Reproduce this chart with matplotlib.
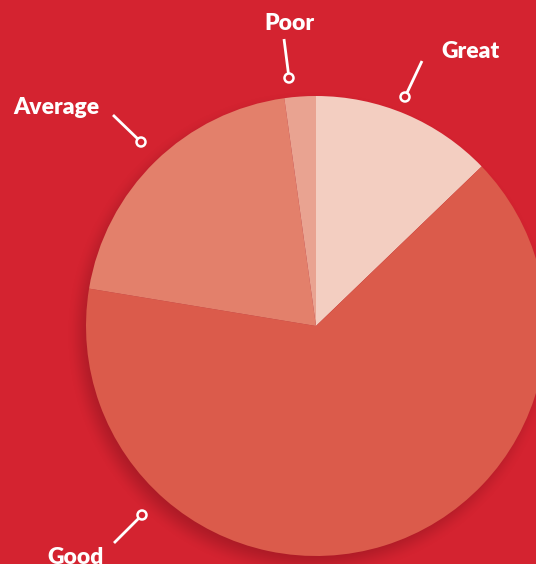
import numpy as np
import matplotlib
matplotlib.use("Agg")
from matplotlib import pyplot as plt
from matplotlib.patches import Circle

# rating shares (percent), clockwise from 12 o'clock
labels = ["Great", "Good", "Average", "Poor"]
shares = [12.8, 64.8, 20.2, 2.2]
colors = ["#F3CEC1", "#DB5B4B", "#E3806B", "#E9A391"]

BG = "#D42330"
W, H = 536, 564
CX, CY, R = 316, 238, 230   # pie centre / radius in pixel units (y up)

# label text position, line start, marker position
callouts = {
    "Great":   ((470, 512), (422, 503), (405, 467)),
    "Poor":    ((289, 541), (284, 525), (289, 486)),
    "Average": ((56, 456), (113, 449), (141, 422)),
    "Good":    ((76, 7), (114, 21), (142, 49)),
}

fig = plt.figure(figsize=(W / 100, H / 100), dpi=100)
fig.patch.set_facecolor(BG)
ax = fig.add_axes([0, 0, 1, 1])
ax.set_facecolor(BG)

# soft drop shadow, offset down-left
yy, xx = np.mgrid[0:H, 0:W]
d = np.hypot(xx - (CX - 6), (H - yy) - (CY - 8))
blur = 14
a = np.clip((R + blur - d) / (2 * blur), 0, 1)
a = a * a * (3 - 2 * a) * 0.45
shadow = np.zeros((H, W, 4))
shadow[..., 0] = 0x7a / 255
shadow[..., 1] = 0x10 / 255
shadow[..., 2] = 0x1a / 255
shadow[..., 3] = a
ax.imshow(shadow, extent=(0, W, 0, H), origin="upper", zorder=1)

ax.pie(shares, colors=colors, startangle=90, counterclock=False,
       center=(CX, CY), radius=R, wedgeprops=dict(linewidth=0, zorder=2))

for name, (tpos, p0, p1) in callouts.items():
    ax.text(tpos[0], tpos[1], name, color="white", fontsize=16.5,
            fontfamily="Lato", fontweight="heavy", ha="center", va="center", zorder=5)
    ax.plot([p0[0], p1[0]], [p0[1], p1[1]], color="white", lw=2,
            solid_capstyle="butt", zorder=4)
    ax.add_patch(Circle(p1, 4.5, facecolor=BG, edgecolor="white", lw=1.8, zorder=5))

ax.set_xlim(0, W)
ax.set_ylim(0, H)
ax.set_aspect("equal")
ax.axis("off")

fig.savefig("out.png", dpi=100, facecolor=BG)
